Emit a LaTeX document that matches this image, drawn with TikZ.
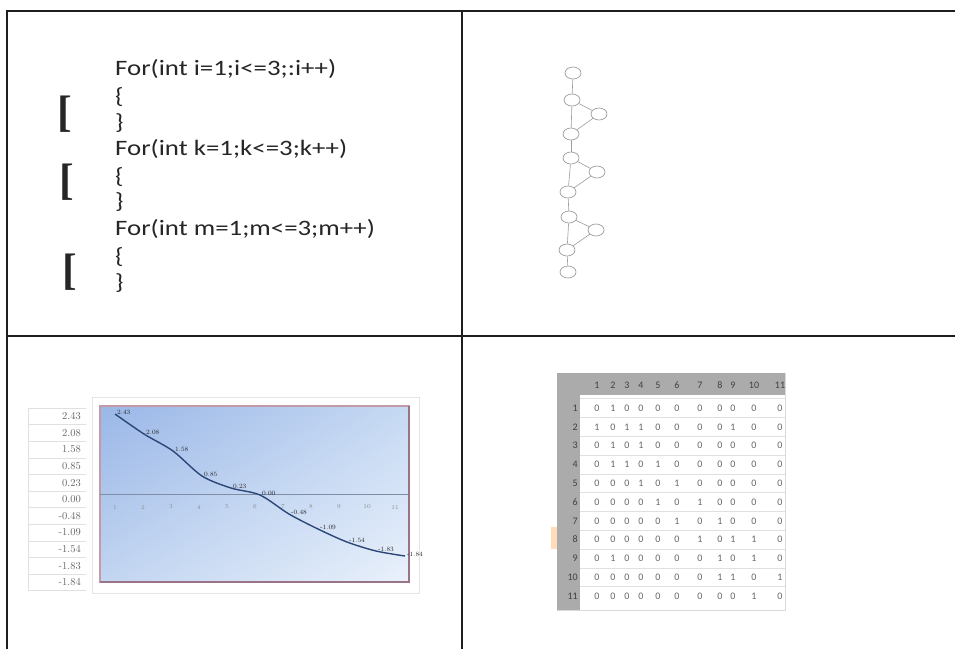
\documentclass[tikz,border=0pt]{standalone}
\usepackage{fontspec}
\usepackage{xcolor}
\usetikzlibrary{positioning,calc,shapes.geometric,shadings}
\newfontfamily\codefont[FakeStretch=1.22]{Carlito}
\newfontfamily\cellfont{Carlito}
\newfontfamily\brfont{Liberation Serif}
\definecolor{framegray}{HTML}{1E1E1E}
\definecolor{graphgray}{HTML}{9C9C9C}
\definecolor{curveblue}{HTML}{2B4677}
\definecolor{plotedge}{HTML}{C39AA8}
\definecolor{plotdark}{HTML}{9A7486}
\definecolor{plottl}{HTML}{9AB7E7}
\definecolor{plottr}{HTML}{C6D9F3}
\definecolor{plotbl}{HTML}{C2D5F1}
\definecolor{plotbr}{HTML}{E9F1FB}
\definecolor{axisline}{HTML}{7F8DA6}
\definecolor{hdrgray}{HTML}{ABABAB}

\tikzset{
  codeline/.style={anchor=west, inner sep=0pt, font=\codefont\fontsize{22}{26}\selectfont, text=black!85},
  bracketsym/.style={inner sep=0pt, font=\brfont\bfseries\fontsize{44}{44}\selectfont, text=black!85},
  vtx/.style={ellipse, draw=graphgray, line width=0.7pt, minimum width=16pt, minimum height=12pt, inner sep=0pt},
  ylbl/.style={anchor=east, inner sep=0pt, font=\rmfamily\fontsize{10.5}{11}\selectfont, text=black!60},
  vallbl/.style={anchor=west, inner sep=1pt, font=\rmfamily\fontsize{6.5}{7}\selectfont, text=black!85},
  ticklbl/.style={inner sep=0pt, font=\rmfamily\fontsize{6}{7}\selectfont, text=black!45},
  hdr/.style={inner sep=0pt, font=\cellfont\fontsize{10}{11}\selectfont, text=black!75},
  mcell/.style={inner sep=0pt, font=\cellfont\fontsize{10}{11}\selectfont, text=black!60}
}

\begin{document}
\begin{tikzpicture}[x=1pt,y=-1pt]
  \useasboundingbox (0,0) rectangle (955,649);
  \fill[white] (0,0) rectangle (955,649);

  \draw[line width=2.6pt, framegray] (7,649) -- (7,11) -- (955,11);
  \draw[line width=2.4pt, framegray] (462,11) -- (462,649);
  \draw[line width=2.4pt, framegray] (7,336) -- (955,336);

  \foreach \y/\txt [count=\i] in {69/{For(int i=1;i<=3;:i++)},97/\{,123/\},149/{For(int k=1;k<=3;k++)},177/\{,202/\},229/{For(int m=1;m<=3;m++)},257/\{,283/\}}
    \node[codeline] (line\i) at (115,\y) {\txt};
  \foreach \x/\y [count=\i] in {65/114,67/182,70/272}
    \node[bracketsym] (br\i) at (\x,\y) {[};

  \node[vtx] (v1) at (573,73) {};
  \node[vtx] (v2) at (572,100) {};
  \node[vtx] (s1) at (599,114) {};
  \node[vtx] (v3) at (571,134) {};
  \node[vtx] (v4) at (571,158) {};
  \node[vtx] (s2) at (597,172) {};
  \node[vtx] (v5) at (568,192) {};
  \node[vtx] (v6) at (569,217) {};
  \node[vtx] (s3) at (596,230) {};
  \node[vtx] (v7) at (567,250) {};
  \node[vtx] (v8) at (568,272) {};
  \foreach \a/\b in {v1/v2,v2/s1,v2/v3,s1/v3,v3/v4,v4/s2,v4/v5,s2/v5,v5/v6,v6/s3,v6/v7,s3/v7,v7/v8}
    \draw[graphgray, line width=0.6pt] (\a) -- (\b);

  \foreach \k in {0,...,11}
    \draw[black!12, line width=0.4pt] (28,{408+16.6*\k}) -- (86,{408+16.6*\k});
  \draw[black!12, line width=0.4pt] (28,408) -- (28,590.6);
  \foreach \v [count=\i] in {2.43,2.08,1.58,0.85,0.23,0.00,-0.48,-1.09,-1.54,-1.83,-1.84}
    \node[ylbl] (yl\i) at (81,{416.3+16.6*(\i-1)}) {\v};

  \draw[black!10, line width=1pt] (92,397) rectangle (419,593);
  \shade[upper left=plottl, upper right=plottr, lower left=plotbl, lower right=plotbr] (100,406) rectangle (409,582);
  \draw[plotedge, line width=2pt] (100,406) rectangle (409,582);
  \draw[plotdark, line width=2.2pt] (100,582) -- (409,582) -- (409,406);
  \draw[axisline, line width=0.6pt] (100,494) -- (408,494);
  \foreach \k in {1,...,11}
    \node[ticklbl] (tick\k) at ({115+28*(\k-1)},507) {\k};
  \draw[curveblue, line width=1.4pt, smooth] plot coordinates {(115,414) (144,434) (173,451) (202,476) (231,488) (260,495) (289,514) (318,529) (347,542) (376,551) (405,556)};
  \foreach \y/\v [count=\i] in {414/2.43,434/2.08,451/1.58,476/0.85,488/0.23,495/0.00,514/-0.48,529/-1.09,542/-1.54,551/-1.83,556/-1.84}
    \node[vallbl] (val\i) at ({116+29*(\i-1)},{\y-2}) {\v};

  \fill[orange!45, opacity=0.6] (551,527) rectangle (557,549);
  \draw[black!15, line width=0.5pt] (557,373) rectangle (785,610);
  \fill[hdrgray] (557,373) rectangle (785,395);
  \fill[hdrgray] (557,373) rectangle (580,610);
  \foreach \k in {0,...,10}
    \draw[black!12, line width=0.4pt] (580,{398.6+18.8*\k}) -- (785,{398.6+18.8*\k});
  \foreach \c/\x in {1/597,2/613,3/627,4/641,5/658,6/677,7/700,8/720,9/733,10/754,11/780}
    \node[hdr] (col\c) at (\x,385) {\c};
  \foreach \r in {1,...,11}
    \node[hdr, anchor=east] (row\r) at (578,{408+18.8*(\r-1)}) {\r};
  \foreach \vals [count=\r] in {{0,1,0,0,0,0,0,0,0,0,0},{1,0,1,1,0,0,0,0,1,0,0},{0,1,0,1,0,0,0,0,0,0,0},{0,1,1,0,1,0,0,0,0,0,0},{0,0,0,1,0,1,0,0,0,0,0},{0,0,0,0,1,0,1,0,0,0,0},{0,0,0,0,0,1,0,1,0,0,0},{0,0,0,0,0,0,1,0,1,1,0},{0,1,0,0,0,0,0,1,0,1,0},{0,0,0,0,0,0,0,1,1,0,1},{0,0,0,0,0,0,0,0,0,1,0}}
    \foreach \v [count=\c] in \vals
      \node[mcell] (m\r-\c) at (col\c |- row\r) {\v};
\end{tikzpicture}
\end{document}
